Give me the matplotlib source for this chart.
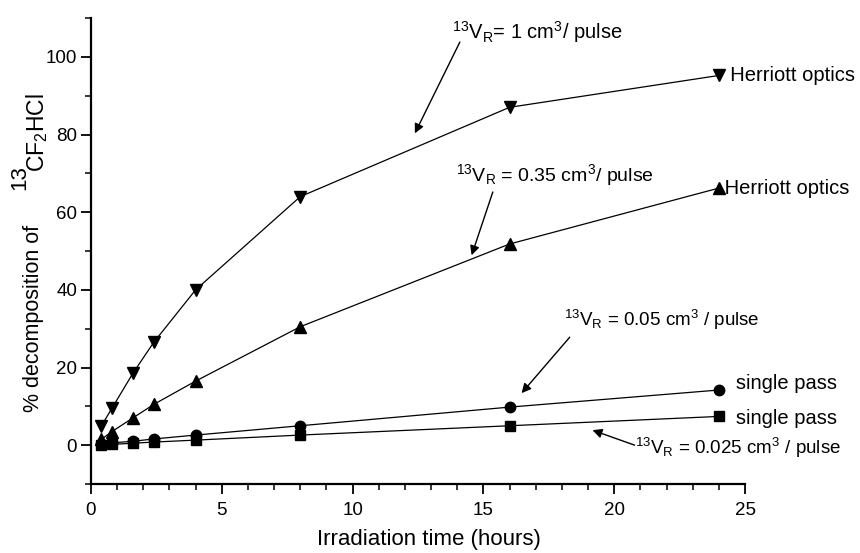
import matplotlib
matplotlib.use("Agg")
import matplotlib.pyplot as plt
from matplotlib.ticker import MultipleLocator

plt.rcParams['font.family'] = ['Liberation Sans', 'DejaVu Sans']
plt.rcParams['mathtext.fontset'] = 'custom'
plt.rcParams['mathtext.rm'] = 'Liberation Sans'
plt.rcParams['mathtext.it'] = 'Liberation Sans:italic'
plt.rcParams['mathtext.bf'] = 'Liberation Sans:bold'

# Data
hours = [0.4, 0.8, 1.6, 2.4, 4, 8, 16, 24]
herriott_1 = [5.0, 9.5, 18.5, 26.5, 40.0, 64.0, 87.0, 95.2]
herriott_035 = [1.5, 3.5, 7.0, 10.5, 16.5, 30.5, 51.8, 66.2]
single_005 = [0.3, 0.6, 1.0, 1.6, 2.6, 5.0, 9.8, 14.2]
single_0025 = [0.1, 0.2, 0.5, 0.8, 1.3, 2.6, 5.0, 7.4]

W, H = 860, 553
fig = plt.figure(figsize=(8.6, 5.53), dpi=100)
ax = fig.add_axes([91 / W, 1 - 484 / H, (745 - 91) / W, (484 - 18) / H])

lw = 0.9
ax.plot(hours, herriott_1, color='black', lw=lw, marker='v', ms=9)
ax.plot(hours, herriott_035, color='black', lw=lw, marker='^', ms=9)
ax.plot(hours, single_005, color='black', lw=lw, marker='o', ms=7.5)
ax.plot(hours, single_0025, color='black', lw=lw, marker='s', ms=7)

ax.set_xlim(0, 25)
ax.set_ylim(-10, 110)
ax.xaxis.set_major_locator(MultipleLocator(5))
ax.xaxis.set_minor_locator(MultipleLocator(1))
ax.yaxis.set_major_locator(MultipleLocator(20))
ax.yaxis.set_minor_locator(MultipleLocator(10))
ax.set_yticks([0, 20, 40, 60, 80, 100])
for s in ['top', 'right']:
    ax.spines[s].set_visible(False)
for s in ['left', 'bottom']:
    ax.spines[s].set_linewidth(1.6)
ax.tick_params(which='major', direction='out', length=7, width=1.3, labelsize=13.5)
ax.tick_params(axis='x', which='major', pad=6)
ax.tick_params(axis='y', which='major', pad=3)
ax.tick_params(which='minor', direction='out', length=4, width=1.1)

# x label
fig.text(429 / W, 1 - 540 / H, 'Irradiation time (hours)', ha='center', va='center',
         fontsize=16)

# y label in parts
fig.text(34 / W, 1 - 318 / H, '% decomposition of', rotation=90,
         ha='center', va='center', fontsize=15.5)
fig.text(20 / W, 1 - 178 / H, '13', rotation=90,
         ha='center', va='center', fontsize=16)
fig.text(37 / W, 1 - 133 / H, r'CF$_2$HCl', rotation=90,
         ha='center', va='center', fontsize=16.5)

fs = 14.5
# Side labels
ax.text(24.0, 95.2, '  Herriott optics', ha='left', va='center', fontsize=fs)
ax.text(24.0, 66.2, ' Herriott optics', ha='left', va='center', fontsize=fs)
ax.text(24.0, 16.0, '   single pass', ha='left', va='center', fontsize=fs)
ax.text(24.0, 6.8, '   single pass', ha='left', va='center', fontsize=fs)

arrow = dict(arrowstyle='-|>', lw=1.0, color='black', mutation_scale=14,
             shrinkA=0, shrinkB=0)

ax.annotate('', xy=(12.38, 80.3), xytext=(14.1, 103.8), arrowprops=arrow)
ax.text(13.8, 106.5, r'$^{13}$V$_{\rm R}$= 1 cm$^3$/ pulse', ha='left', va='center', fontsize=fs)

ax.annotate('', xy=(14.55, 48.9), xytext=(15.36, 65.2), arrowprops=arrow)
ax.text(13.95, 69.6, r'$^{13}$V$_{\rm R}$ = 0.35 cm$^3$/ pulse', ha='left', va='center', fontsize=14)

ax.annotate('', xy=(16.46, 13.4), xytext=(18.3, 27.8), arrowprops=arrow)
ax.text(18.1, 32.3, r'$^{13}$V$_{\rm R}$ = 0.05 cm$^3$ / pulse', ha='left', va='center', fontsize=13.5)

ax.annotate('', xy=(19.17, 3.86), xytext=(20.78, 0.0), arrowprops=arrow)
ax.text(20.8, -0.8, r'$^{13}$V$_{\rm R}$ = 0.025 cm$^3$ / pulse', ha='left', va='center', fontsize=13.5)

fig.savefig('out.png', dpi=100)
